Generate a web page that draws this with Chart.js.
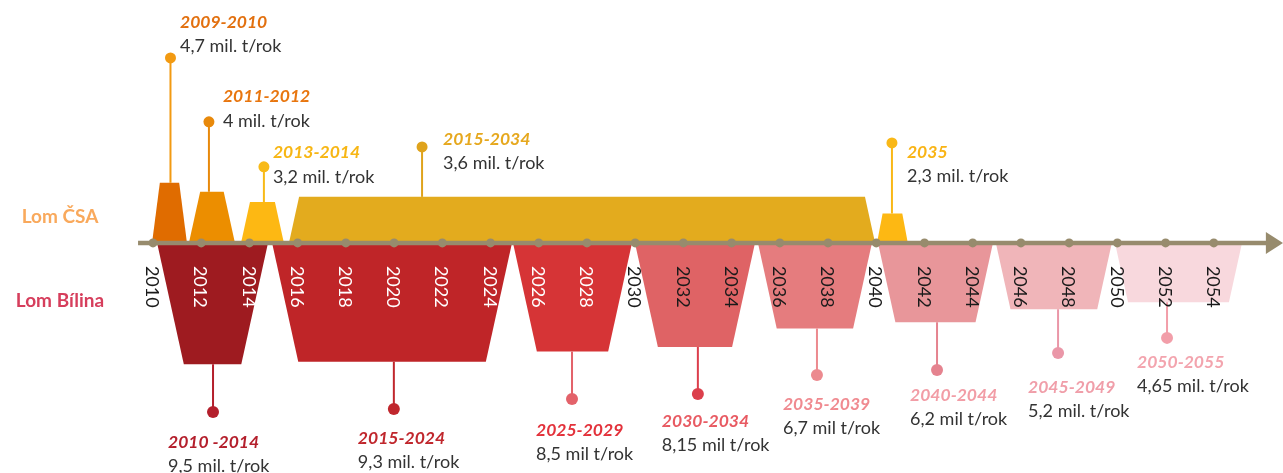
<!DOCTYPE html>
<html><head><meta charset="utf-8">
<script src="https://cdn.jsdelivr.net/npm/chart.js@4.4.1/dist/chart.umd.min.js"></script>
<style>html,body{margin:0;padding:0;background:#fff;overflow:hidden}#wrap{width:1283px;height:473px;position:relative}</style>
</head><body><div id="wrap"><canvas id="c" width="1283" height="473"></canvas></div>
<script>
// ---------- DATA ----------
const tickYears = [2010,2012,2014,2016,2018,2020,2022,2024,2026,2028,2030,2032,2034,2036,2038,2040,2042,2044,2046,2048,2050,2052,2054];
const tickLabels = ['2010','2012','2014','2016','2018','2020','2022','2024','2026','2028','2030','2032','2034','2036','2038','2040','2042','2044','2046','2048','2050','2052','2054'];

const csaName = 'Lom ČSA';
const csaPeriods = ['2009-2010','2011-2012','2013-2014','2015-2034','2035'];
const csaValues = [4.7, 4.0, 3.2, 3.6, 2.3];
const csaValueLabels = ['4,7 mil. t/rok','4 mil. t/rok','3,2 mil. t/rok','3,6 mil. t/rok','2,3 mil. t/rok'];
const csaStart = [2009.96, 2011.49, 2013.65, 2015.64, 2040.03];   // extent as drawn on the timeline
const csaEnd   = [2011.41, 2013.40, 2015.43, 2039.95, 2041.31];

const bilinaName = 'Lom Bílina';
const bilinaPeriods = ['2010 -2014','2015-2024','2025-2029','2030-2034','2035-2039','2040-2044','2045-2049','2050-2055'];
const bilinaValues = [9.5, 9.3, 8.5, 8.15, 6.7, 6.2, 5.2, 4.65];
const bilinaValueLabels = ['9,5 mil. t/rok','9,3 mil. t/rok','8,5 mil t/rok','8,15 mil t/rok','6,7 mil t/rok','6,2 mil t/rok','5,2 mil. t/rok','4,65 mil. t/rok'];
const bilinaStart = [2010.17, 2014.94, 2024.93, 2029.99, 2035.09, 2040.07, 2044.96, 2049.90];
const bilinaEnd   = [2014.77, 2024.89, 2029.87, 2034.97, 2039.82, 2044.84, 2049.77, 2055.17];

// ---------- LAYOUT / STYLE ----------
const X_MIN = 2003.654, X_MAX = 2056.87, Y_MIN = -18, Y_MAX = 19;
const W = 1283, H = 473;
const yrPerPx = (X_MAX - X_MIN) / W, unitPerPx = (Y_MAX - Y_MIN) / H;
const FONT = 'Lato, "Open Sans", sans-serif';
const AXIS = '#978B6D';

const csaFill  = ['#E06C00','#EC8E00','#FDB813','#E3AB1E','#FDB813'];
const csaPin   = ['#F29A12','#E8890B','#F8BA18','#DFA31C','#F9B817'];
const csaTitle = ['#E2700F','#E8760F','#F7B614','#E6A81E','#F9B415'];
const csaTaper = [0.13, 0.22, 0.22, 0.22, 0.19];
const csaPinX  = [2010.725, 2012.32, 2014.60, 2021.16, 2040.65];
const csaPinY  = [14.47, 9.47, 5.95, 7.51, 7.82];
const csaTextOff = [[9.5,-36],[14,-25],[9,-14],[21,-8],[15,9]];

const bilFill  = ['#9E1B20','#BF2528','#D63436','#DF6365','#E57C7E','#E8969A','#F0B5B9','#F8D8DD'];
const bilPin   = ['#B41F2C','#C0272D','#E3626A','#DC3F4C','#EC8A8F','#E5838F','#EA97A8','#F29EA9'];
const bilTitle = ['#B41F2C','#C0272D','#E3323B','#E85A62','#F08A90','#F29DA6','#F09EA9','#F3A4AE'];
const bilTaper = 0.22;
const bilPinX  = [2012.49, 2019.99, 2027.38, 2032.60, 2037.54, 2042.52, 2047.54, 2052.06];
const bilPinY  = [-13.22, -12.99, -12.21, -11.82, -10.33, -9.94, -8.61, -7.43];
const bilTextOff = [[-45,30],[-36,29],[-36,31],[-36,27],[-34,29],[-27,25],[-30,34],[-30,24]];

function trapezoid(s, e, top, taper) {
  const ins = taper * Math.abs(top) / unitPerPx * yrPerPx;
  return [{x:s,y:0},{x:s+ins,y:top},{x:e-ins,y:top},{x:e,y:0}];
}

const datasets = [];
// axis line + tick dots (top-most)
datasets.push({ data: [{x:2009.38,y:0},{x:2056.2,y:0}], borderColor: AXIS, borderWidth: 4.5, pointRadius: 0, fill: false, order: 0 });
datasets.push({ data: tickYears.map(y => ({x:y, y:0})), showLine: false, pointRadius: 4.5, pointBackgroundColor: AXIS, pointBorderWidth: 0, order: 0 });
// pins
csaValues.forEach((v,i) => datasets.push({ data: [{x:csaPinX[i], y:v},{x:csaPinX[i], y:csaPinY[i]}], borderColor: csaPin[i], borderWidth: 2, pointRadius: [0,5.5], pointBackgroundColor: csaPin[i], pointBorderWidth: 0, fill: false, order: 5 }));
bilinaValues.forEach((v,i) => datasets.push({ data: [{x:bilPinX[i], y:-v},{x:bilPinX[i], y:bilPinY[i]}], borderColor: bilPin[i], borderWidth: 2, pointRadius: [0,6], pointBackgroundColor: bilPin[i], pointBorderWidth: 0, fill: false, order: 5 }));
// trapezoids
csaValues.forEach((v,i) => datasets.push({ data: trapezoid(csaStart[i], csaEnd[i], v, csaTaper[i]), backgroundColor: csaFill[i], borderWidth: 0, pointRadius: 0, fill: 'origin', tension: 0, order: 10 }));
bilinaValues.forEach((v,i) => datasets.push({ data: trapezoid(bilinaStart[i], bilinaEnd[i], -v, bilTaper), backgroundColor: bilFill[i], borderWidth: 0, pointRadius: 0, fill: 'origin', tension: 0, order: 10 }));

const textPlugin = {
  id: 'texts',
  afterDatasetsDraw(chart) {
    const {ctx, scales:{x, y}} = chart;
    ctx.save();
    // arrow head
    const ax = x.getPixelForValue(2056.2), ay = y.getPixelForValue(0), tip = x.getPixelForValue(X_MAX);
    ctx.fillStyle = AXIS;
    ctx.beginPath(); ctx.moveTo(ax - 1, ay - 11); ctx.lineTo(tip, ay); ctx.lineTo(ax - 1, ay + 11); ctx.closePath(); ctx.fill();
    // rotated tick labels
    ctx.font = '18px ' + FONT;
    ctx.textBaseline = 'middle'; ctx.textAlign = 'left';
    tickYears.forEach((yr,i) => {
      const px = x.getPixelForValue(yr);
      ctx.save();
      ctx.translate(px - 1, ay + 23);
      ctx.rotate(Math.PI / 2);
      ctx.fillStyle = (yr >= 2012 && yr <= 2028) ? '#FFFFFF' : '#1a1a1a';
      ctx.fillText(tickLabels[i], 0, 0);
      ctx.restore();
    });
    // series names
    ctx.font = 'bold 19px ' + FONT;
    ctx.textAlign = 'center';
    ctx.fillStyle = '#F9A95C';
    ctx.fillText(csaName, 60, y.getPixelForValue(2.03));
    ctx.fillStyle = '#D63E5C';
    ctx.fillText(bilinaName, 60, y.getPixelForValue(-4.5));
    // callout texts
    ctx.textAlign = 'left';
    const drawLabel = (px, py, title, tcol, val) => {
      ctx.font = 'italic bold 17.5px ' + FONT;
      ctx.fillStyle = tcol;
      ctx.fillText(title, px, py);
      ctx.font = '18px ' + FONT;
      ctx.fillStyle = '#333333';
      ctx.fillText(val, px, py + 24);
    };
    csaPeriods.forEach((p,i) => {
      drawLabel(x.getPixelForValue(csaPinX[i]) + csaTextOff[i][0], y.getPixelForValue(csaPinY[i]) + csaTextOff[i][1], p, csaTitle[i], csaValueLabels[i]);
    });
    bilinaPeriods.forEach((p,i) => {
      drawLabel(x.getPixelForValue(bilPinX[i]) + bilTextOff[i][0], y.getPixelForValue(bilPinY[i]) + bilTextOff[i][1], p, bilTitle[i], bilinaValueLabels[i]);
    });
    ctx.restore();
  }
};

new Chart(document.getElementById('c'), {
  type: 'line',
  data: { datasets },
  options: {
    responsive: false, animation: false, devicePixelRatio: 1,
    layout: { padding: 0, autoPadding: false },
    parsing: true,
    scales: {
      x: { type: 'linear', min: X_MIN, max: X_MAX, display: false },
      y: { type: 'linear', min: Y_MIN, max: Y_MAX, display: false }
    },
    plugins: { legend: { display: false }, tooltip: { enabled: false } },
    elements: { line: { tension: 0 } }
  },
  plugins: [textPlugin]
});
</script></body></html>
